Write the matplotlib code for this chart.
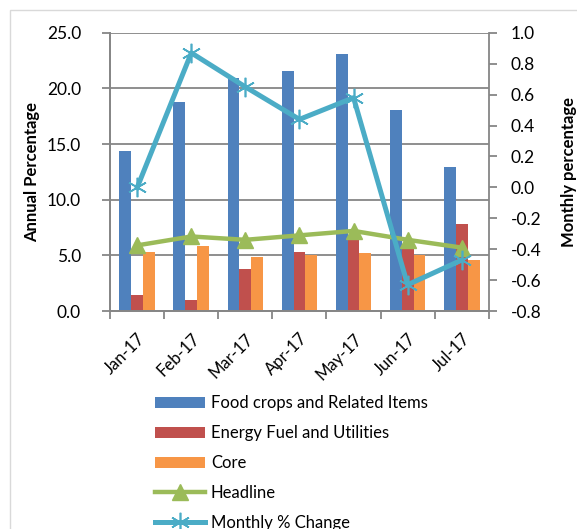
import matplotlib.pyplot as plt
from matplotlib.patches import Rectangle
import numpy as np

months = ['Jan-17', 'Feb-17', 'Mar-17', 'Apr-17', 'May-17', 'Jun-17', 'Jul-17']
food = [14.4, 18.8, 20.9, 21.6, 23.1, 18.1, 12.9]
energy = [1.4, 1.0, 3.8, 5.3, 6.6, 5.6, 7.8]
core = [5.3, 5.8, 4.9, 5.0, 5.2, 5.0, 4.6]
headline = [5.9, 6.7, 6.4, 6.8, 7.2, 6.4, 5.7]
monthly = [0.0, 0.87, 0.65, 0.44, 0.58, -0.63, -0.47]

plt.rcParams['font.family'] = ['Lato', 'DejaVu Sans']
grey = '#868686'

fig = plt.figure(figsize=(5.77, 5.29), dpi=100)
ax = fig.add_axes([0.191, 0.412, 0.656, 0.526])
ax2 = ax.twinx()

x = np.arange(len(months))
w = 0.22
b1 = ax.bar(x - w, food, w, color='#4F81BD', label='Food crops and Related Items', zorder=2)
b2 = ax.bar(x, energy, w, color='#C0504D', label='Energy Fuel and Utilities', zorder=2)
b3 = ax.bar(x + w, core, w, color='#F79646', label='Core', zorder=2)
l1, = ax.plot(x, headline, color='#9BBB59', lw=3.2, marker='^', markersize=11,
              label='Headline', zorder=3)
l2, = ax2.plot(x, monthly, color='#4BACC6', lw=3.6, marker=(6, 2, 0), markersize=14,
               markeredgewidth=1.2, label='Monthly % Change', zorder=3)

# left axis
ax.set_ylim(0, 25)
lt = np.arange(0, 25.1, 5)
ax.set_yticks(lt)
ax.set_yticklabels([f'{v:.1f}' for v in lt])
ax.yaxis.grid(True, color=grey, lw=1.3, zorder=0)
ax.set_axisbelow(True)
ax.set_ylabel('Annual Percentage', fontsize=12, fontweight='bold', labelpad=5)

# right axis
ax2.set_ylim(-0.8, 1.0)
rt = np.round(np.arange(-0.8, 1.01, 0.2), 1)
ax2.set_yticks(rt)
ax2.set_yticklabels([f'{abs(v) if v == 0 else v:.1f}' for v in rt])
ax2.set_ylabel('Monthly percentage', fontsize=12, fontweight='bold', labelpad=14)

# x axis: ticks at category boundaries, labels at centers
ax.set_xlim(-0.5, len(months) - 0.5)
ax.set_xticks(np.arange(-0.5, len(months), 1))
ax.set_xticklabels([])
ax.set_xticks(x, minor=True)
ax.set_xticklabels(months, minor=True, rotation=45, ha='right', rotation_mode='anchor')
ax.tick_params(axis='x', which='minor', length=0, pad=14, labelsize=12)

for a in (ax, ax2):
    for s in a.spines.values():
        s.set_color(grey)
        s.set_linewidth(1.3)
    a.spines['top'].set_visible(False)
    a.tick_params(axis='y', colors=grey, labelcolor='black', labelsize=12.5,
                  width=1.3, length=6, pad=10)
ax.tick_params(axis='y', pad=15)
ax.tick_params(axis='x', which='major', colors=grey, width=1.3, length=6)
ax.spines['right'].set_visible(False)

handles = [b1, b2, b3, l1, l2]
fig.legend(handles, [h.get_label() for h in handles], loc='upper left',
           bbox_to_anchor=(0.257, 0.265), frameon=False, fontsize=12,
           handlelength=3.0, handleheight=0.6, labelspacing=0.83, handletextpad=0.35,
           borderaxespad=0)

# chart area border
fig.add_artist(Rectangle((10 / 577, -0.1), 1.2, 1 - 10 / 529 + 0.1, transform=fig.transFigure,
                         fill=False, edgecolor='#D9D9D9', lw=1))

fig.savefig('out.png', dpi=100)
